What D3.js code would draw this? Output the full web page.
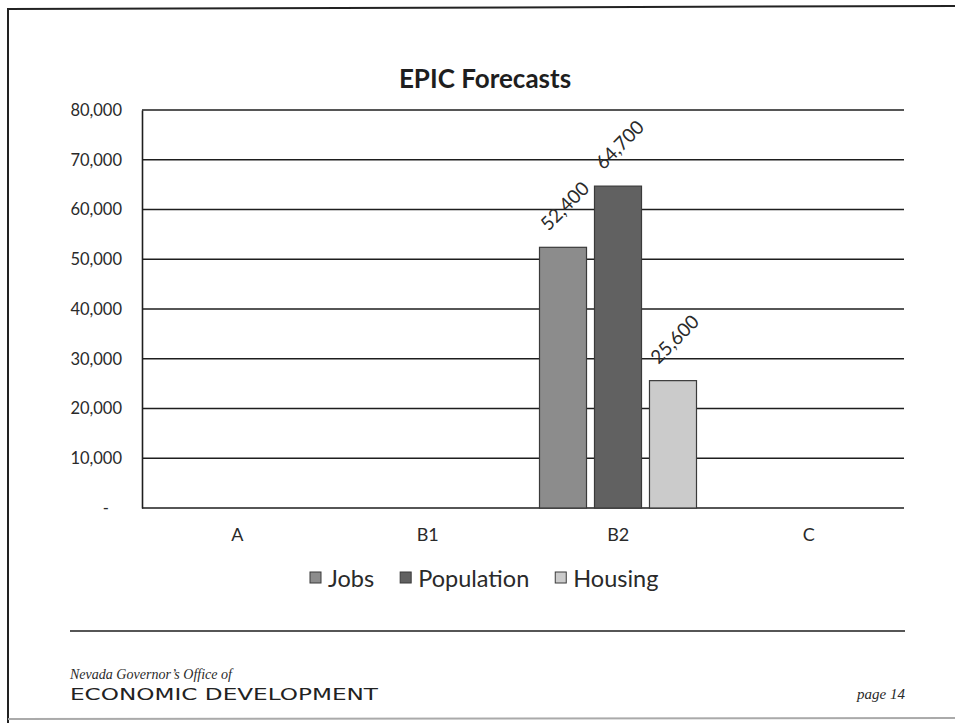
<!DOCTYPE html>
<html>
<head>
<meta charset="utf-8">
<script src="https://cdn.jsdelivr.net/npm/d3@7"></script>
<style>
  body { margin: 0; background: #fff; }
  svg { display: block; }
</style>
</head>
<body>
<script>
// chart data
const categories = ['A', 'B1', 'B2', 'C'];
const seriesNames = ['Jobs', 'Population', 'Housing'];
const jobs = [null, null, 52400, null];
const population = [null, null, 64700, null];
const housing = [null, null, 25600, null];
const yTicks = [0, 10000, 20000, 30000, 40000, 50000, 60000, 70000, 80000];
const title = 'EPIC Forecasts';

const colors = { Jobs: '#8c8c8c', Population: '#616161', Housing: '#cbcbcb' };

const width = 955, height = 723;
const margin = { left: 142, right: 904, top: 110, bottom: 508 };

const svg = d3.select('body').append('svg')
    .attr('width', width)
    .attr('height', height)
    .attr('viewBox', [0, 0, width, height]);

// page frame (scanned page edges)
svg.append('line').attr('x1', 7).attr('x2', 955).attr('y1', 9).attr('y2', 6)
    .attr('stroke', '#222').attr('stroke-width', 2);
svg.append('line').attr('x1', 8).attr('x2', 8).attr('y1', 8).attr('y2', 723)
    .attr('stroke', '#222').attr('stroke-width', 2);
svg.append('line').attr('x1', 8).attr('x2', 955).attr('y1', 719).attr('y2', 718)
    .attr('stroke', '#aaa').attr('stroke-width', 2);

const x = d3.scaleBand()
    .domain(categories)
    .range([margin.left, margin.right]);

const x1 = d3.scaleBand()
    .domain(seriesNames)
    .range([16.5, 173.5])
    .paddingInner(0.145);

const y = d3.scaleLinear()
    .domain([0, 80000])
    .range([margin.bottom, margin.top]);

// gridlines
svg.append('g')
    .selectAll('line')
    .data(yTicks)
    .join('line')
    .attr('x1', margin.left)
    .attr('x2', margin.right)
    .attr('y1', d => y(d))
    .attr('y2', d => y(d))
    .attr('stroke', '#1e1e1e')
    .attr('stroke-width', 1.4);

// y axis
const yAxis = svg.append('g')
    .attr('transform', `translate(${margin.left},0)`)
    .call(d3.axisLeft(y).tickValues(yTicks).tickSize(0).tickPadding(20)
        .tickFormat(d => d === 0 ? '-' : d3.format(',')(d)));
yAxis.select('.domain').attr('stroke', '#1e1e1e').attr('stroke-width', 1.6);
yAxis.selectAll('text')
    .attr('font-family', 'Lato, sans-serif')
    .attr('font-size', 16.5)
    .attr('fill', '#2a2a2a');
yAxis.selectAll('.tick').filter(d => d === 0).select('text').attr('dx', -13);

// x axis labels
const xAxis = svg.append('g')
    .attr('transform', `translate(0,${margin.bottom})`)
    .call(d3.axisBottom(x).tickSize(0).tickPadding(20));
xAxis.select('.domain').remove();
xAxis.selectAll('text')
    .attr('font-family', 'Lato, sans-serif')
    .attr('font-size', 18)
    .attr('fill', '#2a2a2a');

// bars
const rows = categories.map((c, i) => ({
    cat: c,
    values: [
        { key: 'Jobs', value: jobs[i] },
        { key: 'Population', value: population[i] },
        { key: 'Housing', value: housing[i] }
    ].filter(d => d.value != null)
}));

const groups = svg.append('g')
    .selectAll('g')
    .data(rows)
    .join('g')
    .attr('transform', d => `translate(${x(d.cat)},0)`);

groups.selectAll('rect')
    .data(d => d.values)
    .join('rect')
    .attr('x', d => x1(d.key))
    .attr('width', x1.bandwidth())
    .attr('y', d => y(d.value))
    .attr('height', d => y(0) - y(d.value))
    .attr('fill', d => colors[d.key])
    .attr('stroke', '#3a3a3a')
    .attr('stroke-width', 1.2);

// rotated value labels
groups.selectAll('text')
    .data(d => d.values)
    .join('text')
    .attr('transform', d => `translate(${x1(d.key) + x1.bandwidth() / 2 + 3},${y(d.value) - 40}) rotate(-45)`)
    .attr('text-anchor', 'middle')
    .attr('dominant-baseline', 'middle')
    .attr('font-family', 'Lato, sans-serif')
    .attr('font-size', 19)
    .attr('fill', '#2a2a2a')
    .text(d => d3.format(',')(d.value));

// title
svg.append('text')
    .attr('x', 485)
    .attr('y', 88)
    .attr('text-anchor', 'middle')
    .attr('font-family', 'Lato, sans-serif')
    .attr('font-weight', 'bold')
    .attr('font-size', 26)
    .attr('fill', '#1e1e1e')
    .text(title);

// legend
const legend = svg.append('g');
let lx = 310;
seriesNames.forEach(name => {
    legend.append('rect')
        .attr('x', lx).attr('y', 572).attr('width', 11).attr('height', 11)
        .attr('fill', colors[name]).attr('stroke', '#3a3a3a').attr('stroke-width', 1);
    const t = legend.append('text')
        .attr('x', lx + 18).attr('y', 587)
        .attr('font-family', 'Lato, sans-serif')
        .attr('font-size', 23.5)
        .attr('fill', '#2a2a2a')
        .text(name);
    lx += 18 + t.node().getComputedTextLength() + 26;
});

// footer
svg.append('line').attr('x1', 70).attr('x2', 905).attr('y1', 631).attr('y2', 631)
    .attr('stroke', '#1e1e1e').attr('stroke-width', 1.6);

svg.append('text')
    .attr('x', 70).attr('y', 679)
    .attr('font-family', 'Liberation Serif, serif')
    .attr('font-style', 'italic')
    .attr('font-size', 14)
    .attr('textLength', 162)
    .attr('lengthAdjust', 'spacingAndGlyphs')
    .attr('fill', '#2a2a2a')
    .text('Nevada Governor\u2019s Office of');

svg.append('text')
    .attr('x', 70).attr('y', 700)
    .attr('font-family', 'DejaVu Sans, sans-serif')
    .attr('font-size', 16)
    .attr('textLength', 308)
    .attr('lengthAdjust', 'spacingAndGlyphs')
    .attr('fill', '#222')
    .text('ECONOMIC DEVELOPMENT');

svg.append('text')
    .attr('x', 905).attr('y', 699)
    .attr('text-anchor', 'end')
    .attr('font-family', 'Liberation Serif, serif')
    .attr('font-style', 'italic')
    .attr('font-size', 15)
    .attr('fill', '#2a2a2a')
    .text('page 14');
</script>
</body>
</html>
